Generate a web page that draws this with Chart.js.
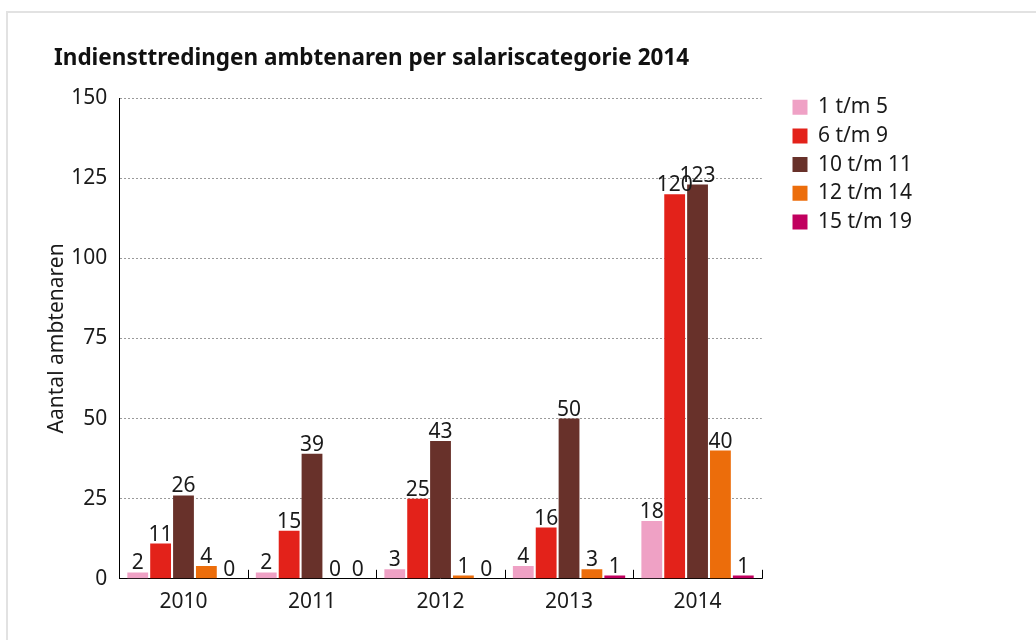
<!DOCTYPE html>
<html>
<head>
<meta charset="utf-8">
<script src="https://cdn.jsdelivr.net/npm/chart.js@4"></script>
<style>
  html, body { margin: 0; padding: 0; background: #fff; }
  #frame {
    position: absolute; left: 6px; top: 11px; right: -10px; bottom: -10px;
    border-top: 2px solid #e2e2e2; border-left: 2px solid #e2e2e2;
  }
  #myChart { position: absolute; left: 0; top: 0; }
</style>
</head>
<body>
<div id="frame"></div>
<canvas id="myChart" width="1036" height="640"></canvas>
<script>
const years = ['2010', '2011', '2012', '2013', '2014'];
const seriesNames = ['1 t/m 5', '6 t/m 9', '10 t/m 11', '12 t/m 14', '15 t/m 19'];
const schaal1tm5 = [2, 2, 3, 4, 18];
const schaal6tm9 = [11, 15, 25, 16, 120];
const schaal10tm11 = [26, 39, 43, 50, 123];
const schaal12tm14 = [4, 0, 1, 3, 40];
const schaal15tm19 = [0, 0, 0, 1, 1];
const yTicks = [0, 25, 50, 75, 100, 125, 150];

const colors = ['#efa1c5', '#e3221a', '#68312a', '#ec6d0b', '#c1005f'];
const allValues = [schaal1tm5, schaal6tm9, schaal10tm11, schaal12tm14, schaal15tm19];

const fontName = '"Noto Sans", "Open Sans", sans-serif';

// waarden boven de staven
const valueLabels = {
  id: 'valueLabels',
  afterDatasetsDraw(chart) {
    const c = chart.ctx;
    c.save();
    c.font = '21px ' + fontName;
    c.fillStyle = '#1a1a1a';
    c.textAlign = 'center';
    c.textBaseline = 'alphabetic';
    chart.data.datasets.forEach((ds, i) => {
      chart.getDatasetMeta(i).data.forEach((bar, j) => {
        c.fillText(String(ds.data[j]), bar.x, bar.y - 3);
      });
    });
    c.restore();
  }
};

// kleine streepjes tussen de categorieen, naar boven
const xTickMarks = {
  id: 'xTickMarks',
  afterDraw(chart) {
    const xs = chart.scales.x;
    const c = chart.ctx;
    const n = years.length;
    const step = (xs.right - xs.left) / n;
    c.save();
    c.strokeStyle = '#000';
    c.lineWidth = 1;
    for (let i = 1; i <= n; i++) {
      const x = Math.round(xs.left + i * step) + 0.5;
      c.beginPath();
      c.moveTo(x, xs.top);
      c.lineTo(x, xs.top - 9);
      c.stroke();
    }
    c.restore();
  }
};

// legenda en titel op hun plek zetten
const placeBoxes = {
  id: 'placeBoxes',
  afterLayout(chart) {
    const lg = chart.legend;
    const w = lg.right - lg.left, h = lg.bottom - lg.top;
    lg.left = chart.chartArea.right + 23;
    lg.right = lg.left + w;
    lg.top = chart.chartArea.top - 9;
    lg.bottom = lg.top + h;
    const tb = chart.titleBlock;
    tb.left += 10; tb.right += 10;
    tb.top += 2; tb.bottom += 2;
  }
};

const ctx = document.getElementById('myChart').getContext('2d');
new Chart(ctx, {
  type: 'bar',
  data: {
    labels: years,
    datasets: seriesNames.map((name, i) => ({
      label: name,
      data: allValues[i],
      backgroundColor: colors[i],
      borderWidth: 0,
      categoryPercentage: 0.89,
      barPercentage: 0.91
    }))
  },
  options: {
    responsive: false,
    animation: false,
    devicePixelRatio: 1,
    layout: { padding: { left: 44, right: 137, top: 43, bottom: 14 } },
    plugins: {
      title: {
        display: true,
        text: 'Indiensttredingen ambtenaren per salariscategorie 2014',
        align: 'start',
        color: '#111',
        font: { family: fontName, size: 22.5, weight: 'bold' },
        padding: { top: 0, bottom: 28 }
      },
      legend: {
        position: 'right',
        align: 'start',
        labels: {
          boxWidth: 15,
          boxHeight: 15,
          padding: 7.7,
          color: '#1a1a1a',
          font: { family: fontName, size: 21 }
        }
      },
      tooltip: { enabled: false }
    },
    scales: {
      x: {
        grid: { display: false, drawTicks: false },
        border: { color: '#000', width: 1 },
        ticks: { color: '#1a1a1a', font: { family: fontName, size: 21 }, padding: 11 }
      },
      y: {
        min: 0,
        max: 150,
        afterBuildTicks(scale) { scale.ticks = yTicks.map(v => ({ value: v })); },
        title: {
          display: true,
          text: 'Aantal ambtenaren',
          color: '#1a1a1a',
          font: { family: fontName, size: 21 },
          padding: { top: 0, bottom: -10 }
        },
        border: { color: '#000', width: 1, dash: [2, 2] },
        grid: {
          color: c => c.tick && c.tick.value === 0 ? 'rgba(0,0,0,0)' : '#9a9a9a',
          drawTicks: false,
          lineWidth: 1
        },
        ticks: { color: '#1a1a1a', font: { family: fontName, size: 21 }, padding: 12 }
      }
    }
  },
  plugins: [valueLabels, xTickMarks, placeBoxes]
});
</script>
</body>
</html>
